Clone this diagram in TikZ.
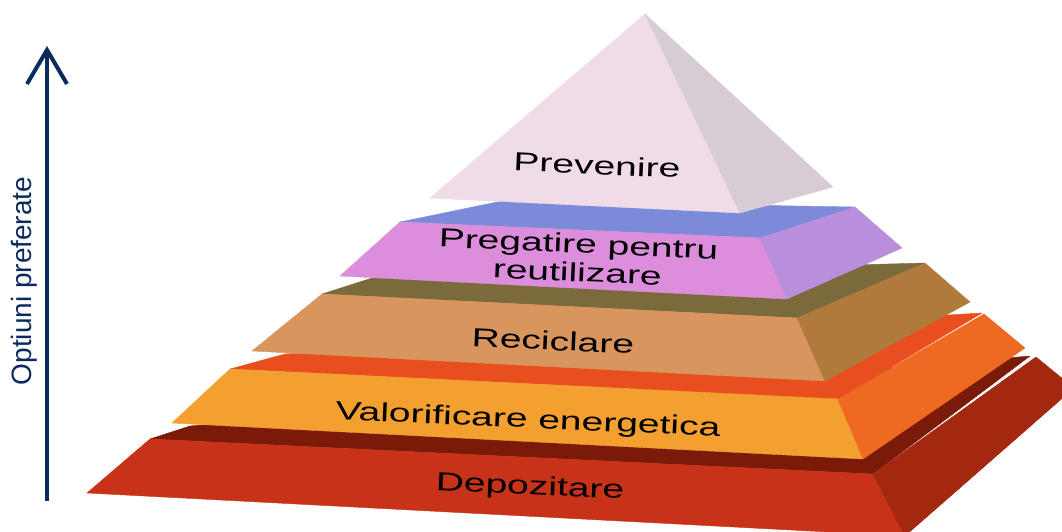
\documentclass[tikz,border=0pt]{standalone}
\usepackage{fontspec}
\setmainfont{Liberation Sans}
\usetikzlibrary{arrows.meta}

\definecolor{navy}{HTML}{0B2A5E}
\definecolor{prevfront}{HTML}{EFDCE8}
\definecolor{prevside}{HTML}{D7CCD6}
\definecolor{pregtop}{HTML}{7B8BD9}
\definecolor{pregfront}{HTML}{DC8EDC}
\definecolor{pregside}{HTML}{B98EDA}
\definecolor{recitop}{HTML}{7A6A3C}
\definecolor{recifront}{HTML}{D8955E}
\definecolor{reciside}{HTML}{B07A3C}
\definecolor{valotop}{HTML}{E84E1E}
\definecolor{valofront}{HTML}{F4A030}
\definecolor{valoside}{HTML}{EE6A22}
\definecolor{depotop}{HTML}{7A1A08}
\definecolor{depofront}{HTML}{C83218}
\definecolor{deposide}{HTML}{A3280F}

\begin{document}
\begin{tikzpicture}[x=1pt,y=-1pt,
        face/.style={fill=#1,draw=#1,line width=0.4pt,line join=round},
        lvltext/.style={font=\fontsize{26}{28.5}\selectfont,text=black,
            rotate=-2.5,xscale=1.5,align=center,inner sep=0pt},
        prefaxis/.style={navy,line width=4pt,-{Straight Barb[length=34pt,width=40pt]}}]
    \useasboundingbox (0,0) rectangle (1062,532);
    \clip (0,0) rectangle (1062,532);

    % Depozitare
    \fill[face=depotop] (150,439) -- (873,474) -- (1030,356) -- (190,426) -- cycle;
    \fill[face=depofront] (150,439) -- (873,474) -- (905,536) -- (87,493) -- cycle;
    \fill[face=deposide] (873,474) -- (1036,357) -- (1074,388) -- (905,536) -- cycle;
    % Valorificare energetica
    \fill[face=valotop] (230,369) -- (838,399) -- (982,313) -- (285,354) -- cycle;
    \fill[face=valofront] (230,369) -- (838,399) -- (863,459) -- (172,423) -- cycle;
    \fill[face=valoside] (838,399) -- (984,314) -- (1025,348) -- (863,459) -- cycle;
    % Reciclare
    \fill[face=recitop] (322,294) -- (797,318) -- (925,263) -- (372,278) -- cycle;
    \fill[face=recifront] (322,294) -- (797,318) -- (825,381) -- (252,351) -- cycle;
    \fill[face=reciside] (797,318) -- (925,263) -- (970,302) -- (825,381) -- cycle;
    % Pregatire pentru reutilizare
    \fill[face=pregtop] (400,222) -- (760,238) -- (855,207) -- (502,201) -- cycle;
    \fill[face=pregfront] (400,222) -- (760,238) -- (787,299) -- (340,276) -- cycle;
    \fill[face=pregside] (760,238) -- (855,207) -- (902,248) -- (787,299) -- cycle;
    % Prevenire
    \fill[face=prevfront] (645,14) -- (430,198) -- (740,213) -- cycle;
    \fill[face=prevside] (645,14) -- (740,213) -- (833,187) -- cycle;

    \begin{scope}[every node/.style={lvltext}]
        \node (prevenire) at (597,165) {Prevenire};
        \node (pregatire) at (578,258) {Pregatire pentru\\reutilizare};
        \node (reciclare) at (553,341) {Reciclare};
        \node (valorificare) at (528,421) {Valorificare energetica};
        \node (depozitare) at (530,488) {Depozitare};
    \end{scope}

    \coordinate (axisbot) at (47,501);
    \coordinate (axistop) at (47,46);
    \draw[prefaxis] (axisbot) -- (axistop);
    \node[rotate=90,text=navy,font=\fontsize{28}{30}\selectfont] (axislabel)
        at (24,281) {Optiuni preferate};
\end{tikzpicture}
\end{document}
